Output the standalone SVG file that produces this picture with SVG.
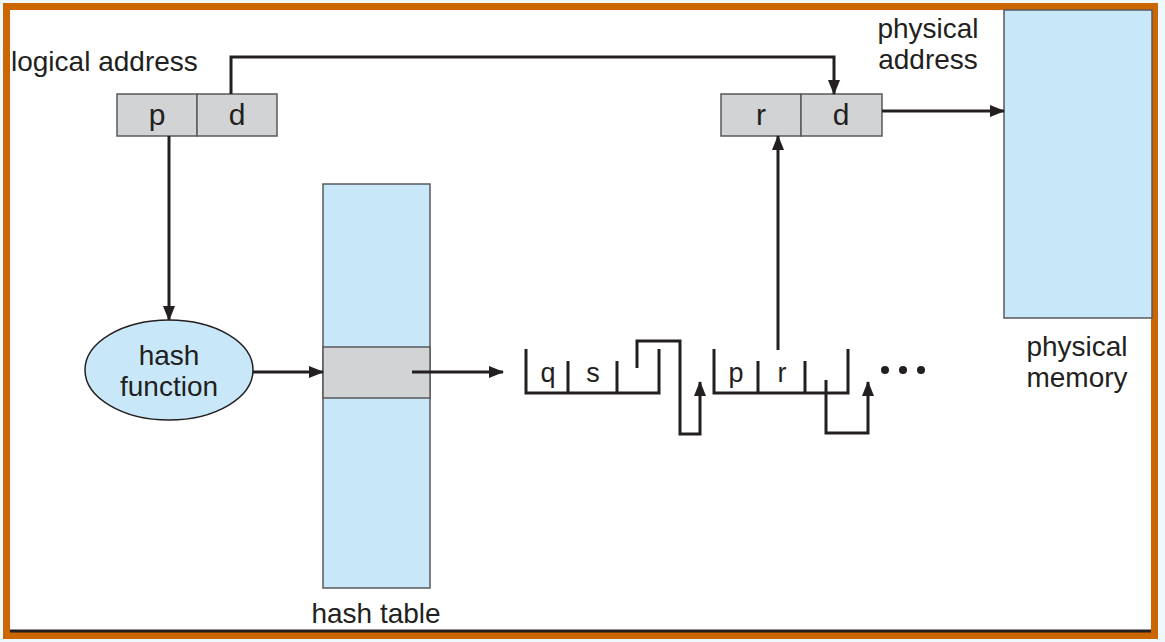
<svg xmlns="http://www.w3.org/2000/svg" width="1165" height="642" viewBox="0 0 1165 642">
<style>
.lbl{font-family:"Liberation Sans",Arial,sans-serif;font-size:28px;fill:#231f20}
.cell{font-family:"Liberation Sans",Arial,sans-serif;font-size:30px;fill:#231f20;text-anchor:middle}
.fn{font-family:"Liberation Sans",Arial,sans-serif;font-size:28px;fill:#231f20;text-anchor:middle}
.li{font-family:"Liberation Sans",Arial,sans-serif;font-size:27px;fill:#231f20;text-anchor:middle}
.box{fill:#d1d3d4;stroke:#58595b;stroke-width:1.5}
.blue{fill:#c8e8fa;stroke:#58595b;stroke-width:1.5}
.ln{fill:none;stroke:#231f20;stroke-width:3}
</style>
<defs>
<marker id="ah" markerWidth="15" markerHeight="12" refX="14" refY="6" orient="auto" markerUnits="userSpaceOnUse">
<path d="M0,0 L15,6 L0,12 Z" fill="#231f20"/>
</marker>
</defs>
<rect x="0" y="0" width="1165" height="642" fill="#eef8fd"/>
<rect x="6.5" y="6.5" width="1148" height="629" fill="#ffffff" stroke="#cc6600" stroke-width="7"/>
<line x1="10" y1="631" x2="1151" y2="631" stroke="#231f20" stroke-width="3"/>

<g id="physical-memory">
<rect class="blue" x="1004" y="10" width="148" height="308"/>
<text class="lbl" x="1077" y="356" text-anchor="middle">physical</text>
<text class="lbl" x="1077" y="387" text-anchor="middle">memory</text>
</g>

<g id="logical-address">
<text class="lbl" x="11" y="71">logical address</text>
<rect class="box" x="117" y="94" width="80" height="42"/>
<rect class="box" x="197" y="94" width="80" height="42"/>
<text class="cell" x="157" y="125">p</text>
<text class="cell" x="237" y="125">d</text>
</g>

<g id="physical-address">
<text class="lbl" x="928" y="38" text-anchor="middle">physical</text>
<text class="lbl" x="928" y="69" text-anchor="middle">address</text>
<rect class="box" x="721" y="94" width="80" height="42"/>
<rect class="box" x="801" y="94" width="81" height="42"/>
<text class="cell" x="761" y="125">r</text>
<text class="cell" x="841" y="125">d</text>
</g>

<g id="hash-function">
<ellipse cx="169" cy="370" rx="84" ry="50" fill="#c8e8fa" stroke="#231f20" stroke-width="1.5"/>
<text class="fn" x="169" y="365">hash</text>
<text class="fn" x="169" y="396">function</text>
</g>

<g id="hash-table">
<rect class="blue" x="323" y="184" width="107" height="404"/>
<rect class="box" x="323" y="347" width="107" height="51"/>
<text class="lbl" x="376" y="623" text-anchor="middle">hash table</text>
</g>

<g id="list-entry-1">
<path class="ln" d="M526,349 V393 H659 V349 M568,361 V393 M617,361 V393"/>
<text class="li" x="548" y="382">q</text>
<text class="li" x="593" y="382">s</text>
</g>

<g id="list-entry-2">
<path class="ln" d="M714,349 V393 H848 V349 M758,361 V393 M805,361 V393"/>
<text class="li" x="736" y="382">p</text>
<text class="li" x="782" y="382">r</text>
</g>

<g id="ellipsis">
<circle cx="885" cy="370" r="4" fill="#231f20"/>
<circle cx="903" cy="370" r="4" fill="#231f20"/>
<circle cx="921" cy="370" r="4" fill="#231f20"/>
</g>

<g id="connectors">
<path class="ln" d="M231,94 V57 H834 V94" marker-end="url(#ah)"/>
<path class="ln" d="M882,111 H1004" marker-end="url(#ah)"/>
<path class="ln" d="M778,350 V136" marker-end="url(#ah)"/>
<path class="ln" d="M169,136 V320" marker-end="url(#ah)"/>
<path class="ln" d="M253,372 H323" marker-end="url(#ah)"/>
<path class="ln" d="M412,372 H503" marker-end="url(#ah)"/>
<path class="ln" d="M637,368 V341 H680 V434 H700 V382" marker-end="url(#ah)"/>
<path class="ln" d="M826,380 V433 H868 V382" marker-end="url(#ah)"/>
</g>
</svg>
